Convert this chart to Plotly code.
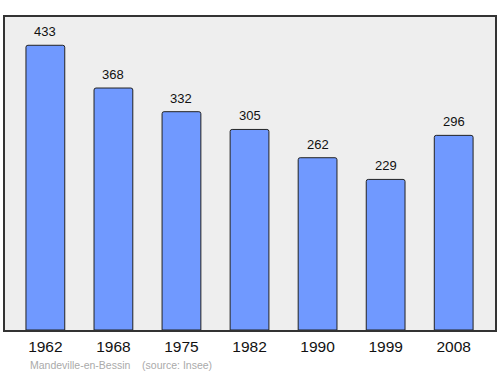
import plotly.graph_objects as go

years = ["1962", "1968", "1975", "1982", "1990", "1999", "2008"]
population = [433, 368, 332, 305, 262, 229, 296]
caption = "Mandeville-en-Bessin    (source: Insee)"

fig = go.Figure()
fig.add_trace(go.Bar(
    x=years, y=population, width=0.57,
    marker=dict(color="#7099ff", line=dict(color="#222222", width=1), cornerradius=2),
    hoverinfo="skip",
))
for i, v in enumerate(population):
    fig.add_annotation(x=i, y=v, text=str(v), showarrow=False, yanchor="bottom",
                       yshift=4, font=dict(size=13, color="#111111", family="Liberation Sans, Arial"))
fig.add_annotation(xref="paper", yref="paper", x=0.047, y=-0.112, xanchor="left", yanchor="middle",
                   text=caption, showarrow=False,
                   font=dict(size=10.5, color="#aaaaaa", family="Liberation Sans, Arial"))

fig.update_layout(
    width=500, height=374,
    margin=dict(l=5, r=3, t=17, b=44),
    plot_bgcolor="#eeeeee", paper_bgcolor="white",
    showlegend=False,
    font=dict(family="Liberation Sans, Arial", color="#111111"),
    xaxis=dict(type="category", range=[-0.593, 6.607], showline=True, mirror=True,
               linecolor="#333333", linewidth=1.5, ticks="", tickfont=dict(size=15.5),
               ticklabelstandoff=2, showgrid=False, fixedrange=True),
    yaxis=dict(range=[0, 476], showline=True, mirror=True, linecolor="#333333", linewidth=1.5,
               showticklabels=False, ticks="", showgrid=False, zeroline=False, fixedrange=True),
)
fig.write_html("out.html")
